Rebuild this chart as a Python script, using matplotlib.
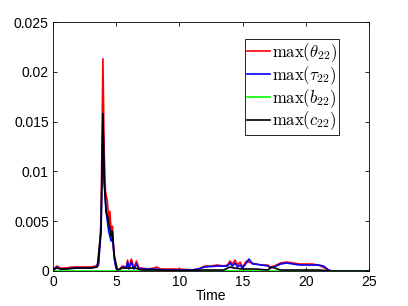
import matplotlib.pyplot as plt

plt.rcParams['font.family'] = ['Liberation Sans', 'DejaVu Sans']
plt.rcParams['mathtext.fontset'] = 'cm'

# --- data ---
t_theta = [0, 0.3, 0.6, 1.0, 1.5, 2.0, 2.5, 3.0, 3.4, 3.6, 3.8, 3.95, 4.05, 4.15,
           4.3, 4.4, 4.5, 4.6, 4.7, 4.8, 5.0, 5.2, 5.5, 5.8, 5.9, 6.0, 6.2, 6.4,
           6.6, 6.8, 7.0, 7.5, 8.0, 8.2, 8.5, 9.0, 10.0, 11.0, 11.5, 12.0, 12.5,
           13.0, 13.5, 13.8, 14.0, 14.2, 14.4, 14.6, 14.8, 15.0, 15.3, 15.5, 16.0,
           16.5, 17.0, 17.2, 17.5, 18.0, 18.5, 19.0, 19.5, 20.0, 20.5, 21.0, 21.5,
           21.8, 22.0, 25.0]
theta = [0.0001, 0.0005, 0.0003, 0.0003, 0.0004, 0.0004, 0.0004, 0.0004, 0.0005,
         0.0008, 0.005, 0.0213, 0.012, 0.008, 0.007, 0.005, 0.006, 0.004, 0.0045,
         0.002, 0.0003, 0.0001, 0.0005, 0.0004, 0.0011, 0.0003, 0.0012, 0.0003,
         0.001, 0.0003, 0.0003, 0.0002, 0.0003, 0.0004, 0.0002, 0.0002, 0.0002,
         0.0001, 0.0002, 0.0005, 0.0005, 0.0006, 0.0005, 0.0006, 0.001, 0.0007,
         0.0011, 0.0006, 0.0009, 0.0004, 0.001, 0.0009, 0.0007, 0.0006, 0.0006,
         0.0004, 0.0005, 0.0008, 0.0009, 0.0008, 0.0007, 0.0007, 0.0007, 0.0006,
         0.0003, 0.0001, 0.00002, 0.0]

t_tau = [0, 0.3, 0.6, 1.0, 1.5, 2.0, 2.5, 3.0, 3.4, 3.6, 3.8, 3.95, 4.05, 4.2,
         4.4, 4.6, 4.7, 4.85, 5.0, 5.2, 5.5, 5.8, 5.9, 6.0, 6.2, 6.4, 6.6, 6.8,
         7.0, 8.0, 9.0, 10.0, 11.0, 11.5, 12.0, 13.0, 13.8, 14.0, 14.2, 14.4,
         14.6, 14.8, 15.0, 15.3, 15.5, 15.8, 16.0, 16.5, 17.0, 17.2, 17.5, 18.0,
         18.5, 19.0, 19.5, 20.0, 20.5, 21.0, 21.4, 21.8, 22.0, 25.0]
tau = [0.0001, 0.0004, 0.0002, 0.0002, 0.0003, 0.0003, 0.0003, 0.0003, 0.0004,
       0.0006, 0.004, 0.0152, 0.009, 0.006, 0.004, 0.003, 0.0035, 0.0012,
       0.0002, 0.0001, 0.0004, 0.0003, 0.0009, 0.0002, 0.0009, 0.0002, 0.0007,
       0.0002, 0.0002, 0.0002, 0.0001, 0.0001, 0.0001, 0.0002, 0.0004, 0.0005,
       0.0005, 0.0008, 0.0005, 0.0008, 0.0004, 0.0006, 0.0003, 0.0008, 0.0012,
       0.0007, 0.0007, 0.0006, 0.0005, 0.0003, 0.0004, 0.0007, 0.0008, 0.0007,
       0.0006, 0.0006, 0.0006, 0.0006, 0.0005, 0.0001, 0.00002, 0.0]

t_b = [0, 25.0]
b = [0.0, 0.0]

t_c = [0, 0.3, 0.6, 1.0, 2.0, 3.0, 3.5, 3.8, 3.95, 4.05, 4.2, 4.4, 4.6, 4.7,
       4.85, 5.1, 5.5, 6.0, 6.5, 7.0, 8.0, 10.0, 12.0, 13.5, 14.0, 14.3, 15.0,
       16.0, 17.0, 17.3, 18.0, 20.0, 21.0, 22.0, 25.0]
c = [0.0001, 0.0003, 0.0002, 0.0002, 0.0003, 0.0003, 0.0004, 0.004, 0.0158,
     0.009, 0.006, 0.005, 0.0035, 0.004, 0.0015, 0.0001, 0.0003, 0.0003,
     0.0003, 0.0001, 0.0001, 0.00005, 0.0001, 0.0001, 0.0004, 0.0003, 0.0002,
     0.0002, 0.0001, 0.0004, 0.0001, 0.0001, 0.0001, 0.0, 0.0]

labels = [r'$\max(\theta_{22})$', r'$\max(\tau_{22})$',
          r'$\max(b_{22})$', r'$\max(c_{22})$']

fig = plt.figure(figsize=(4.08, 3.06), dpi=100)
ax = fig.add_axes([53 / 408, 1 - 271 / 306, 316 / 408, 249 / 306])

ax.plot(t_theta, theta, color='#ff0000', lw=1.2, label=labels[0])
ax.plot(t_tau, tau, color='#0000ff', lw=1.2, label=labels[1])
ax.plot(t_b, b, color='#00ff00', lw=1.2, label=labels[2])
ax.plot(t_c, c, color='black', lw=1.2, label=labels[3])

ax.set_xlim(0, 25)
ax.set_ylim(0, 0.025)
ax.set_xticks([0, 5, 10, 15, 20, 25])
ax.set_yticks([0, 0.005, 0.01, 0.015, 0.02, 0.025])
ax.set_yticklabels(['0', '0.005', '0.01', '0.015', '0.02', '0.025'])
ax.tick_params(direction='in', top=True, right=True, labelsize=10, length=3,
               width=0.6, pad=3)
for s in ax.spines.values():
    s.set_linewidth(0.6)
ax.set_xlabel('Time', fontsize=10, labelpad=0)

leg = ax.legend(loc='upper right', bbox_to_anchor=(0.905, 0.932),
                borderaxespad=0, fontsize=12, fancybox=False, framealpha=1,
                edgecolor='black', handlelength=1.35, handletextpad=0.1,
                labelspacing=0.0, borderpad=0.15)
leg.get_frame().set_linewidth(0.6)

fig.savefig('out.png', dpi=100)
